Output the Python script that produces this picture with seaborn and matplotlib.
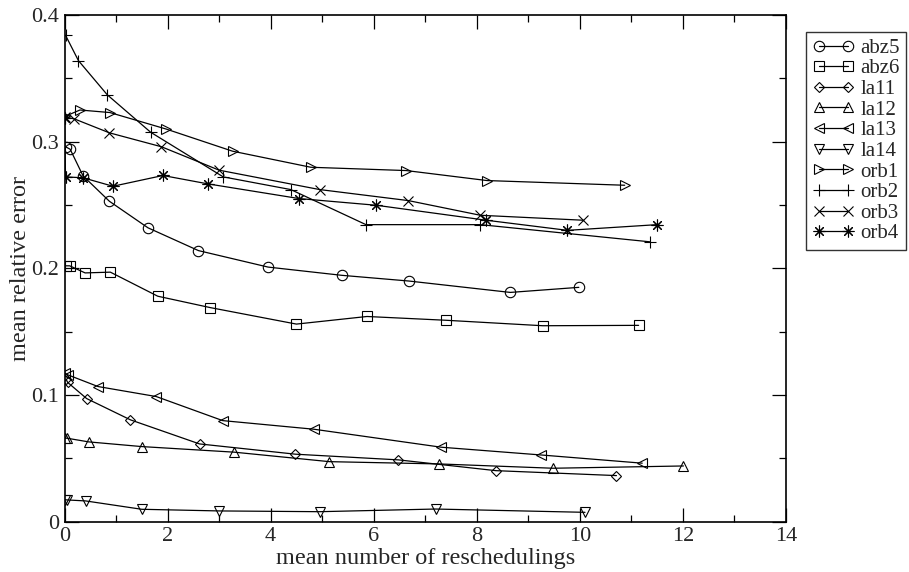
import numpy as np
import pandas as pd
import matplotlib
matplotlib.use("Agg")
import matplotlib.pyplot as plt
from matplotlib.ticker import MultipleLocator, FuncFormatter
import seaborn as sns

# ---- data ----
names = ["abz5", "abz6", "la11", "la12", "la13", "la14", "orb1", "orb2", "orb3", "orb4"]

abz5_x = [0.02, 0.11, 0.36, 0.87, 1.62, 2.60, 3.95, 5.38, 6.68, 8.65, 9.98]
abz5_y = [0.296, 0.294, 0.273, 0.253, 0.232, 0.214, 0.201, 0.1945, 0.190, 0.181, 0.185]

abz6_x = [0.03, 0.10, 0.40, 0.89, 1.81, 2.83, 4.50, 5.87, 7.41, 9.28, 11.14]
abz6_y = [0.202, 0.202, 0.1964, 0.197, 0.178, 0.169, 0.156, 0.162, 0.159, 0.1547, 0.155]

la11_x = [0.03, 0.06, 0.43, 1.28, 2.62, 4.48, 6.48, 8.37, 10.71]
la11_y = [0.1126, 0.110, 0.0972, 0.0804, 0.0614, 0.0533, 0.0488, 0.0403, 0.0364]

la12_x = [0.0, 0.05, 0.47, 1.50, 3.29, 5.14, 7.27, 9.48, 12.01]
la12_y = [0.066, 0.0659, 0.063, 0.0593, 0.0549, 0.0474, 0.0456, 0.0422, 0.0440]

la13_x = [0.01, 0.06, 0.65, 1.78, 3.07, 4.84, 7.31, 9.24, 11.21]
la13_y = [0.1173, 0.116, 0.1067, 0.0988, 0.0798, 0.0730, 0.0588, 0.0527, 0.0462]

la14_x = [0.0, 0.04, 0.41, 1.50, 3.00, 4.95, 7.20, 10.10]
la14_y = [0.0175, 0.0172, 0.0164, 0.0098, 0.0085, 0.0079, 0.0100, 0.0074]

orb1_x = [0.01, 0.30, 0.88, 1.97, 3.26, 4.78, 6.63, 8.20, 10.87]
orb1_y = [0.320, 0.325, 0.323, 0.310, 0.2925, 0.2798, 0.2772, 0.2693, 0.2656]

orb2_x = [0.02, 0.27, 0.83, 1.67, 3.08, 4.39, 5.85, 8.07, 11.37]
orb2_y = [0.384, 0.364, 0.337, 0.3075, 0.2722, 0.2622, 0.2345, 0.2345, 0.2209]

orb3_x = [0.01, 0.19, 0.87, 1.88, 3.00, 4.95, 6.67, 8.07, 10.06]
orb3_y = [0.3194, 0.318, 0.307, 0.296, 0.2775, 0.2622, 0.2535, 0.2419, 0.2380]

orb4_x = [0.0, 0.02, 0.36, 0.94, 1.91, 2.78, 4.55, 6.05, 8.18, 9.76, 11.50]
orb4_y = [0.319, 0.2722, 0.2715, 0.2648, 0.2733, 0.2667, 0.2551, 0.2498, 0.238, 0.230, 0.2345]

xs = [abz5_x, abz6_x, la11_x, la12_x, la13_x, la14_x, orb1_x, orb2_x, orb3_x, orb4_x]
ys = [abz5_y, abz6_y, la11_y, la12_y, la13_y, la14_y, orb1_y, orb2_y, orb3_y, orb4_y]

markers = ["o", "s", "D", "^", "<", "v", ">", "+", "x", (8, 2, 0)]
msizes = [7.5, 6.5, 5.5, 7.5, 7.5, 7.5, 7.5, 8.5, 6.5, 8.5]

sns.set_theme(style="white")
plt.rcParams["font.family"] = ["Liberation Serif", "DejaVu Serif"]

fig = plt.figure(figsize=(9.09, 5.72), dpi=100)
ax = fig.add_axes([64.5 / 909, 1 - 521.7 / 572, (786 - 64.5) / 909, (521.7 - 15) / 572])

for name, x, y, m, ms in zip(names, xs, ys, markers, msizes):
    df = pd.DataFrame({"x": x, "y": y})
    sns.lineplot(data=df, x="x", y="y", ax=ax, sort=False, color="black",
                 marker=m, markersize=ms, markerfacecolor="none",
                 markeredgecolor="black", markeredgewidth=0.8,
                 linewidth=0.9, label=name, legend=False)

ax.set_xlim(0, 14)
ax.set_ylim(0, 0.4)
ax.xaxis.set_major_locator(MultipleLocator(2))
ax.xaxis.set_minor_locator(MultipleLocator(1))
ax.yaxis.set_major_locator(MultipleLocator(0.1))
ax.yaxis.set_minor_locator(MultipleLocator(0.05))
ax.xaxis.set_major_formatter(FuncFormatter(lambda v, p: f"{v:.0f}"))
ax.yaxis.set_major_formatter(FuncFormatter(lambda v, p: "0" if abs(v) < 1e-9 else f"{v:.1f}"))
ax.tick_params(which="both", direction="in", top=True, right=True,
               bottom=True, left=True, color="black", width=0.9,
               labelsize=16, pad=4)
ax.tick_params(which="major", length=10)
ax.tick_params(which="minor", length=5)
for s in ax.spines.values():
    s.set_color("black")
    s.set_linewidth(1.2)

ax.set_xlabel("mean number of reschedulings", fontsize=17.5, labelpad=1)
ax.set_ylabel("mean relative error", fontsize=17.5, labelpad=0)
ax.grid(False)

handles, labels = ax.get_legend_handles_labels()
leg = ax.legend(handles, labels, loc="upper left",
                bbox_to_anchor=(806 / 909, 1 - 32 / 572),
                bbox_transform=fig.transFigure, numpoints=2,
                frameon=True, fancybox=False, edgecolor="black",
                fontsize=15, handlelength=2.0, handletextpad=0.3,
                labelspacing=0.05, borderpad=0.3, borderaxespad=0)
leg.get_frame().set_linewidth(1.0)

fig.savefig("out.png", dpi=100)
